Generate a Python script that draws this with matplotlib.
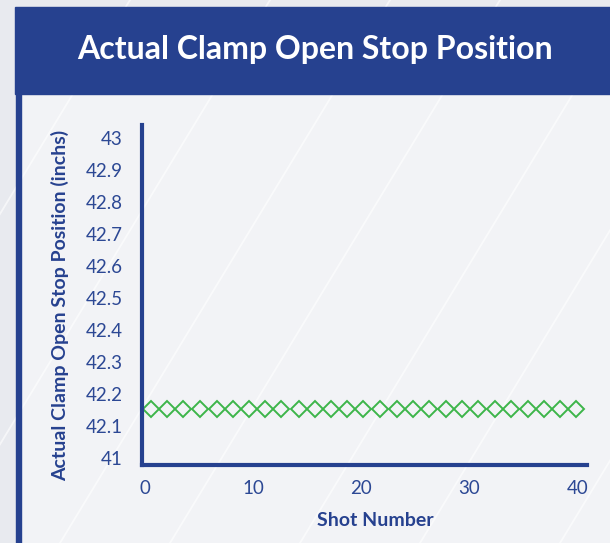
import matplotlib.pyplot as plt
from matplotlib.patches import Rectangle
from matplotlib.lines import Line2D

# data
shots = [0.5, 2.0, 3.5, 5.1, 6.6, 8.1, 9.6, 11.1, 12.6, 14.2, 15.7, 17.2, 18.7, 20.2,
         21.7, 23.3, 24.8, 26.3, 27.8, 29.3, 30.8, 32.4, 33.9, 35.4, 36.9, 38.4, 39.9]
positions = [42.153] * 27
y_ticks = [42.0, 42.1, 42.2, 42.3, 42.4, 42.5, 42.6, 42.7, 42.8, 42.9, 43.0]
y_tick_labels = ['41', '42.1', '42.2', '42.3', '42.4', '42.5', '42.6', '42.7', '42.8', '42.9', '43']
x_ticks = [0, 10, 20, 30, 40]

navy = '#26418f'
tick_col = '#2c4894'
green = '#3db54a'

plt.rcParams['font.family'] = ['Lato', 'DejaVu Sans']

W, H = 610, 543
fig = plt.figure(figsize=(W / 100, H / 100), dpi=100)
fig.patch.set_facecolor('#e8eaef')

def fx(px):
    return px / W

def fy(py):
    return 1 - py / H

# panel, banner and left border
fig.patches.append(Rectangle((fx(16), 0), 1, fy(94), transform=fig.transFigure,
                             color='#f2f3f6', zorder=-4))
fig.patches.append(Rectangle((fx(15), fy(94)), 1, fy(7) - fy(94), transform=fig.transFigure,
                             color=navy, zorder=-2))
fig.patches.append(Rectangle((fx(16), 0), fx(5), fy(94), transform=fig.transFigure,
                             color=navy, zorder=-2))

# faint diagonal streaks in the background
for x0 in [-200, -60, 60, 170, 300, 420, 560, 690]:
    fig.lines.append(Line2D([fx(x0), fx(x0 + 330)], [0, 1], transform=fig.transFigure,
                            color='white', alpha=0.6, lw=1.3, zorder=-3))

fig.text(fx(315), fy(50), 'Actual Clamp Open Stop Position', color='white',
         fontsize=23, fontweight='bold', ha='center', va='center')

ax = fig.add_axes([fx(142), fy(465), fx(587) - fx(142), fy(125) - fy(465)])
ax.set_facecolor('none')
ax.plot(shots, positions, linestyle='none', marker='D', markersize=8,
        markerfacecolor='none', markeredgecolor=green, markeredgewidth=1.4, clip_on=False)

ax.set_xlim(-0.3, 40.9)
ax.set_ylim(41.978, 43.04)
ax.set_xticks(x_ticks)
ax.set_yticks(y_ticks)
ax.set_yticklabels(y_tick_labels)
ax.tick_params(length=0, labelsize=13.5, labelcolor=tick_col)
ax.tick_params(axis='y', pad=14)
ax.tick_params(axis='x', pad=11)

for s in ['top', 'right']:
    ax.spines[s].set_visible(False)
for s in ['left', 'bottom']:
    ax.spines[s].set_color(navy)
    ax.spines[s].set_linewidth(3)

ax.set_xlabel('Shot Number', fontsize=14, fontweight='bold', color=navy)
ax.xaxis.set_label_coords(0.524, -0.162)
ax.xaxis.label.set_va('center')
ax.set_ylabel('Actual Clamp Open Stop Position (inchs)', fontsize=14, fontweight='bold', color=navy)
ax.yaxis.set_label_coords(-0.184, 0.468)
ax.yaxis.label.set_va('center')

fig.savefig('out.png', dpi=100)
